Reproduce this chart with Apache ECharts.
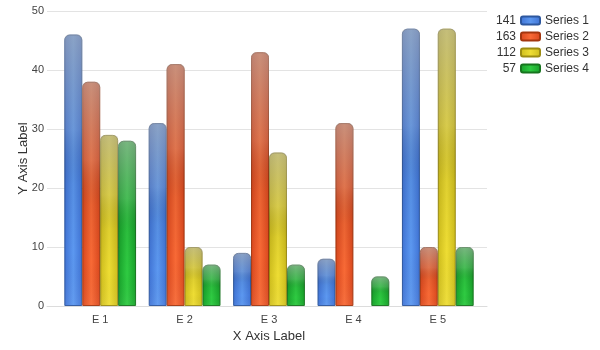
<!DOCTYPE html>
<html>
<head>
<meta charset="utf-8">
<script src="https://cdn.jsdelivr.net/npm/echarts@6/dist/echarts.min.js"></script>
<style>
  html, body { margin: 0; padding: 0; background: #fff; }
  #chart { width: 600px; height: 350px; }
</style>
</head>
<body>
<div id="chart"></div>
<script>
// Categories and series values
const categories = ['E 1', 'E 2', 'E 3', 'E 4', 'E 5'];
const seriesNames = ['Series 1', 'Series 2', 'Series 3', 'Series 4'];
const series1 = [46, 31, 9, 8, 47];
const series2 = [38, 41, 43, 31, 10];
const series3 = [29, 10, 26, null, 47];
const series4 = [28, 7, 7, 5, 10];
const yTicks = [0, 10, 20, 30, 40, 50];

const allValues = [series1, series2, series3, series4];
const totals = allValues.map(arr => arr.reduce((s, v) => s + (v || 0), 0));

// Per-series palette: edge colour, centre highlight, outline
const palette = [
  { edge: '#3f72d4', mid: '#5c98f0', border: '#2d579e' },
  { edge: '#d9471d', mid: '#f86a36', border: '#a3360f' },
  { edge: '#cdbc1c', mid: '#eedd34', border: '#9c8c12' },
  { edge: '#17a02a', mid: '#2fcb42', border: '#17751f' }
];

function barFill(p) {
  return new echarts.graphic.LinearGradient(0, 0, 1, 0, [
    { offset: 0, color: p.edge },
    { offset: 0.5, color: p.mid },
    { offset: 1, color: p.edge }
  ]);
}

// Grey wash at the top, slight darkening through the middle
const shade = new echarts.graphic.LinearGradient(0, 0, 0, 1, [
  { offset: 0, color: 'rgba(170,170,170,0.6)' },
  { offset: 0.35, color: 'rgba(150,150,150,0.25)' },
  { offset: 0.55, color: 'rgba(0,0,0,0.06)' },
  { offset: 0.8, color: 'rgba(0,0,0,0)' },
  { offset: 1, color: 'rgba(255,255,255,0.05)' }
]);

const font = 'Liberation Sans, Arial, sans-serif';
const barRadius = [5, 5, 0, 0];
const yMin = yTicks[0];
const yMax = yTicks[yTicks.length - 1];
const yStep = yTicks[1] - yTicks[0];

const baseSeries = seriesNames.map((name, i) => ({
  name: name,
  type: 'bar',
  xAxisIndex: 0,
  yAxisIndex: 0,
  data: allValues[i],
  barGap: '0%',
  barCategoryGap: '15%',
  itemStyle: {
    color: barFill(palette[i]),
    borderColor: palette[i].border,
    borderWidth: 1,
    borderRadius: barRadius
  }
}));

// Shading layer over each bar, laid out on a twin category axis
const sheenSeries = seriesNames.map((name, i) => ({
  name: 'sheen' + (i + 1),
  type: 'bar',
  xAxisIndex: 1,
  yAxisIndex: 0,
  data: allValues[i],
  barGap: '0%',
  barCategoryGap: '15%',
  silent: true,
  itemStyle: { color: shade, borderRadius: barRadius }
}));

const chart = echarts.init(document.getElementById('chart'), null, { renderer: 'canvas' });
chart.setOption({
  animation: false,
  backgroundColor: '#fff',
  grid: [
    // bar area
    { left: 58, right: 120, top: 11, bottom: 44 },
    // backdrop with the wider gridlines and axis line
    { left: 47, right: 113, top: 11, bottom: 44 }
  ],
  legend: [
    {
      data: seriesNames,
      orient: 'vertical',
      left: 520,
      top: 14,
      padding: 0,
      itemWidth: 19,
      itemHeight: 8,
      itemGap: 3,
      selectedMode: false,
      textStyle: { fontFamily: font, fontSize: 12, color: '#333', lineHeight: 13 }
    },
    {
      data: seriesNames,
      orient: 'vertical',
      align: 'right',
      right: 78,
      top: 14,
      padding: 0,
      itemWidth: 0,
      itemHeight: 8,
      itemGap: 3,
      selectedMode: false,
      itemStyle: { opacity: 0 },
      formatter: name => String(totals[seriesNames.indexOf(name)]),
      textStyle: { fontFamily: font, fontSize: 12, color: '#333', lineHeight: 13 }
    }
  ],
  xAxis: [
    {
      type: 'category',
      gridIndex: 0,
      data: categories,
      name: 'X Axis Label',
      nameLocation: 'middle',
      nameGap: 20,
      nameTextStyle: { fontFamily: font, fontSize: 13, color: '#333' },
      axisLine: { show: false },
      axisTick: { alignWithLabel: true, length: 4, lineStyle: { color: '#dcdcdc' } },
      axisLabel: { fontFamily: font, fontSize: 11, color: '#444', margin: 8 }
    },
    {
      type: 'category',
      gridIndex: 0,
      data: categories,
      show: false
    },
    {
      type: 'value',
      gridIndex: 1,
      min: 0,
      max: 1,
      axisLine: { show: true, lineStyle: { color: '#dcdcdc' } },
      axisTick: { show: false },
      axisLabel: { show: false },
      splitLine: { show: false }
    }
  ],
  yAxis: [
    {
      type: 'value',
      gridIndex: 0,
      min: yMin,
      max: yMax,
      interval: yStep,
      name: 'Y Axis Label',
      nameLocation: 'middle',
      nameGap: 28,
      nameTextStyle: { fontFamily: font, fontSize: 13, color: '#333' },
      axisLine: { show: false },
      axisTick: { show: false },
      axisLabel: { show: false },
      splitLine: { show: false }
    },
    {
      type: 'value',
      gridIndex: 1,
      min: yMin,
      max: yMax,
      interval: yStep,
      axisLine: { show: false },
      axisTick: { show: false },
      axisLabel: { fontFamily: font, fontSize: 11, color: '#444', margin: 3 },
      splitLine: { lineStyle: { color: '#e3e3e3' } }
    }
  ],
  series: baseSeries.concat(sheenSeries)
});
</script>
</body>
</html>
